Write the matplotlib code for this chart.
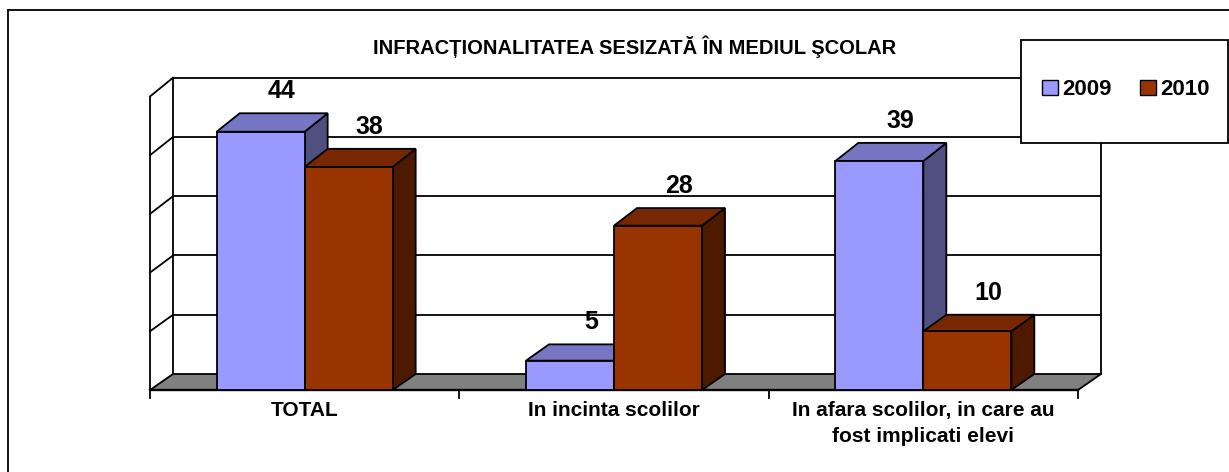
import matplotlib.pyplot as plt
from matplotlib.patches import Polygon, Rectangle, Patch
from matplotlib.lines import Line2D

plt.rcParams['font.family'] = ['Liberation Sans', 'DejaVu Sans']

categories = ['TOTAL', 'In incinta scolilor',
              'In afara scolilor, in care au\nfost implicati elevi']
years = ['2009', '2010']
v2009 = [44, 5, 39]
v2010 = [38, 28, 10]
title = 'INFRACȚIONALITATEA SESIZATĂ ÎN MEDIUL ŞCOLAR'

front_cols = ['#9999FF', '#993300']
top_cols = ['#7676C4', '#772800']
side_cols = ['#4F4F80', '#4D1A00']

W, H = 1229, 472
fig = plt.figure(figsize=(W / 100, H / 100), dpi=100)
# front plane of the 3d box: x 0..3 -> 150..1078 px, value 0..50 -> 390..96.5 px
ax = fig.add_axes([150 / W, (H - 390) / H, 928 / W, 293.5 / H])
ax.set_xlim(0, 3)
ax.set_ylim(0, 50)
ax.axis('off')

pxv = 293.5 / 50          # pixels per value unit
DX = 23 * 3 / 928         # depth shift in x units
DV = 16 / pxv             # depth shift in value units at the floor
SB = 1.0095               # slight perspective on the back plane


def back(x, v):
    return x + DX, v * SB + DV


lw = 1.3
# floor
ax.add_patch(Polygon([(0, 0), (3, 0), back(3, 0), back(0, 0)], closed=True,
                     fc='#808080', ec='black', lw=lw, clip_on=False, zorder=1))
# back wall and left wall
for v in [10, 20, 30, 40, 50]:
    bx0, by = back(0, v)
    bx1, _ = back(3, v)
    ax.plot([bx0, bx1], [by, by], color='black', lw=lw, clip_on=False, zorder=1)
    ax.plot([0, bx0], [v, by], color='black', lw=lw, clip_on=False, zorder=1)
for x in [0, 3]:
    bx, by0 = back(x, 0)
    _, by1 = back(x, 50)
    ax.plot([bx, bx], [by0, by1], color='black', lw=lw, clip_on=False, zorder=1)
ax.plot([0, 0], [-1.36, 50], color='black', lw=lw, clip_on=False, zorder=1)
ax.plot([0, 3], [0, 0], color='black', lw=lw * 1.3, clip_on=False, zorder=1.5)
for x in [1, 2, 3]:
    ax.plot([x, x], [-1.36, 0], color='black', lw=lw, clip_on=False, zorder=1)

# bars
bw = 88 / (928 / 3)
z = 3
for i in range(len(categories)):
    for j, vals in enumerate([v2009, v2010]):
        h = vals[i]
        x0 = i + 0.5 - bw + j * bw
        x1 = x0 + bw
        ax.add_patch(Polygon([(x1, 0), (x1, h), back(x1, h), back(x1, 0)],
                             closed=True, fc=side_cols[j], ec='black', lw=lw,
                             clip_on=False, zorder=z))
        ax.add_patch(Polygon([(x0, h), (x1, h), back(x1, h), back(x0, h)],
                             closed=True, fc=top_cols[j], ec='black', lw=lw,
                             clip_on=False, zorder=z + 0.1))
        ax.add_patch(Rectangle((x0, 0), bw, h, fc=front_cols[j], ec='black',
                               lw=lw, clip_on=False, zorder=z + 0.2))
        lx, ly = back((x0 + x1) / 2, h)
        ax.annotate(str(h), (lx, ly), xytext=(-2, 22), textcoords='offset pixels',
                    ha='center', va='center', fontsize=18, fontweight='bold',
                    zorder=20, annotation_clip=False)
        z += 1

for i, c in enumerate(categories):
    ax.text(i + 0.5, -1.9, c, ha='center', va='top', fontsize=15,
            fontweight='bold', linespacing=1.45, clip_on=False)

fig.text(634.5 / W, 1 - 47 / H, title, ha='center', va='center',
         fontsize=14.5, fontweight='bold')

# outer chart frame
fig.add_artist(Line2D([8 / W, 8 / W], [0, 1 - 10 / H], color='black', lw=lw,
                      transform=fig.transFigure))
fig.add_artist(Line2D([8 / W, 1], [1 - 10 / H, 1 - 10 / H], color='black', lw=lw,
                      transform=fig.transFigure))

# legend box
fig.add_artist(Rectangle((1021 / W, 1 - 143 / H), 207 / W, 103 / H, fc='white',
                         ec='black', lw=lw, transform=fig.transFigure, zorder=5))
handles = [Patch(fc=front_cols[k], ec='black', lw=1) for k in range(2)]
fig.legend(handles, years, loc='center', bbox_to_anchor=(1126 / W, 1 - 90 / H),
           ncol=2, frameon=False, prop={'size': 16, 'weight': 'bold'},
           handlelength=0.7, handleheight=0.7, handletextpad=0.2,
           columnspacing=1.3).set_zorder(6)

fig.savefig('out.png', dpi=100)
